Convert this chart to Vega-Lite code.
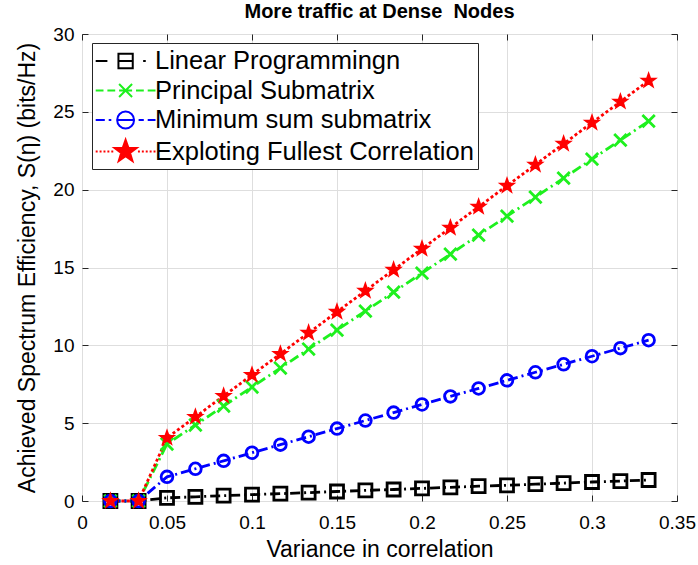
{
  "$schema": "https://vega.github.io/schema/vega-lite/v6.json",
  "width": 595,
  "height": 467,
  "autosize": {"type": "none"},
  "padding": {"left": 82, "top": 34, "right": 21, "bottom": 64},
  "title": {"text": "More traffic at Dense \u00a0Nodes", "fontSize": 20, "fontWeight": "bold", "font": "Liberation Sans", "color": "#000000", "offset": 3, "anchor": "middle"},
  "data": {"values": [
    {"series": "Linear Programmingn", "x": 0.0167, "y": 0},
    {"series": "Linear Programmingn", "x": 0.0333, "y": 0},
    {"series": "Linear Programmingn", "x": 0.05, "y": 0.2},
    {"series": "Linear Programmingn", "x": 0.0667, "y": 0.27},
    {"series": "Linear Programmingn", "x": 0.0833, "y": 0.34},
    {"series": "Linear Programmingn", "x": 0.1, "y": 0.41},
    {"series": "Linear Programmingn", "x": 0.1167, "y": 0.47},
    {"series": "Linear Programmingn", "x": 0.1333, "y": 0.54},
    {"series": "Linear Programmingn", "x": 0.15, "y": 0.61},
    {"series": "Linear Programmingn", "x": 0.1667, "y": 0.68},
    {"series": "Linear Programmingn", "x": 0.1833, "y": 0.74},
    {"series": "Linear Programmingn", "x": 0.2, "y": 0.81},
    {"series": "Linear Programmingn", "x": 0.2167, "y": 0.88},
    {"series": "Linear Programmingn", "x": 0.2333, "y": 0.95},
    {"series": "Linear Programmingn", "x": 0.25, "y": 1.01},
    {"series": "Linear Programmingn", "x": 0.2667, "y": 1.08},
    {"series": "Linear Programmingn", "x": 0.2833, "y": 1.15},
    {"series": "Linear Programmingn", "x": 0.3, "y": 1.22},
    {"series": "Linear Programmingn", "x": 0.3167, "y": 1.28},
    {"series": "Linear Programmingn", "x": 0.3333, "y": 1.35},
    {"series": "Principal Submatrix", "x": 0.0167, "y": 0},
    {"series": "Principal Submatrix", "x": 0.0333, "y": 0},
    {"series": "Principal Submatrix", "x": 0.05, "y": 3.66},
    {"series": "Principal Submatrix", "x": 0.0667, "y": 4.88},
    {"series": "Principal Submatrix", "x": 0.0833, "y": 6.1},
    {"series": "Principal Submatrix", "x": 0.1, "y": 7.32},
    {"series": "Principal Submatrix", "x": 0.1167, "y": 8.54},
    {"series": "Principal Submatrix", "x": 0.1333, "y": 9.76},
    {"series": "Principal Submatrix", "x": 0.15, "y": 10.98},
    {"series": "Principal Submatrix", "x": 0.1667, "y": 12.2},
    {"series": "Principal Submatrix", "x": 0.1833, "y": 13.42},
    {"series": "Principal Submatrix", "x": 0.2, "y": 14.64},
    {"series": "Principal Submatrix", "x": 0.2167, "y": 15.86},
    {"series": "Principal Submatrix", "x": 0.2333, "y": 17.08},
    {"series": "Principal Submatrix", "x": 0.25, "y": 18.3},
    {"series": "Principal Submatrix", "x": 0.2667, "y": 19.52},
    {"series": "Principal Submatrix", "x": 0.2833, "y": 20.74},
    {"series": "Principal Submatrix", "x": 0.3, "y": 21.96},
    {"series": "Principal Submatrix", "x": 0.3167, "y": 23.18},
    {"series": "Principal Submatrix", "x": 0.3333, "y": 24.4},
    {"series": "Minimum sum submatrix", "x": 0.0167, "y": 0},
    {"series": "Minimum sum submatrix", "x": 0.0333, "y": 0},
    {"series": "Minimum sum submatrix", "x": 0.05, "y": 1.55},
    {"series": "Minimum sum submatrix", "x": 0.0667, "y": 2.07},
    {"series": "Minimum sum submatrix", "x": 0.0833, "y": 2.58},
    {"series": "Minimum sum submatrix", "x": 0.1, "y": 3.1},
    {"series": "Minimum sum submatrix", "x": 0.1167, "y": 3.62},
    {"series": "Minimum sum submatrix", "x": 0.1333, "y": 4.13},
    {"series": "Minimum sum submatrix", "x": 0.15, "y": 4.65},
    {"series": "Minimum sum submatrix", "x": 0.1667, "y": 5.17},
    {"series": "Minimum sum submatrix", "x": 0.1833, "y": 5.68},
    {"series": "Minimum sum submatrix", "x": 0.2, "y": 6.2},
    {"series": "Minimum sum submatrix", "x": 0.2167, "y": 6.72},
    {"series": "Minimum sum submatrix", "x": 0.2333, "y": 7.23},
    {"series": "Minimum sum submatrix", "x": 0.25, "y": 7.75},
    {"series": "Minimum sum submatrix", "x": 0.2667, "y": 8.27},
    {"series": "Minimum sum submatrix", "x": 0.2833, "y": 8.78},
    {"series": "Minimum sum submatrix", "x": 0.3, "y": 9.3},
    {"series": "Minimum sum submatrix", "x": 0.3167, "y": 9.82},
    {"series": "Minimum sum submatrix", "x": 0.3333, "y": 10.33},
    {"series": "Exploting Fullest Correlation", "x": 0.0167, "y": 0},
    {"series": "Exploting Fullest Correlation", "x": 0.0333, "y": 0},
    {"series": "Exploting Fullest Correlation", "x": 0.05, "y": 4.05},
    {"series": "Exploting Fullest Correlation", "x": 0.0667, "y": 5.4},
    {"series": "Exploting Fullest Correlation", "x": 0.0833, "y": 6.75},
    {"series": "Exploting Fullest Correlation", "x": 0.1, "y": 8.1},
    {"series": "Exploting Fullest Correlation", "x": 0.1167, "y": 9.45},
    {"series": "Exploting Fullest Correlation", "x": 0.1333, "y": 10.8},
    {"series": "Exploting Fullest Correlation", "x": 0.15, "y": 12.15},
    {"series": "Exploting Fullest Correlation", "x": 0.1667, "y": 13.5},
    {"series": "Exploting Fullest Correlation", "x": 0.1833, "y": 14.85},
    {"series": "Exploting Fullest Correlation", "x": 0.2, "y": 16.2},
    {"series": "Exploting Fullest Correlation", "x": 0.2167, "y": 17.55},
    {"series": "Exploting Fullest Correlation", "x": 0.2333, "y": 18.9},
    {"series": "Exploting Fullest Correlation", "x": 0.25, "y": 20.25},
    {"series": "Exploting Fullest Correlation", "x": 0.2667, "y": 21.6},
    {"series": "Exploting Fullest Correlation", "x": 0.2833, "y": 22.95},
    {"series": "Exploting Fullest Correlation", "x": 0.3, "y": 24.3},
    {"series": "Exploting Fullest Correlation", "x": 0.3167, "y": 25.65},
    {"series": "Exploting Fullest Correlation", "x": 0.3333, "y": 27.0}
  ]},
  "layer": [
    {
      "mark": {"type": "line", "strokeWidth": 2.8},
      "encoding": {
        "x": {"field": "x", "type": "quantitative", "scale": {"domain": [0, 0.35], "nice": false, "zero": false},
              "axis": {"orient": "bottom", "values": [0, 0.05, 0.1, 0.15, 0.2, 0.25, 0.3, 0.35], "format": "~g", "title": "Variance in correlation", "grid": true, "labelPadding": 18, "titlePadding": 6, "labelFlush": false}},
        "y": {"field": "y", "type": "quantitative", "scale": {"domain": [0, 30], "nice": false},
              "axis": {"orient": "left", "values": [0, 5, 10, 15, 20, 25, 30], "format": "d", "title": "Achieved Spectrum Efficiency, S(η) (bits/Hz)", "grid": true, "labelPadding": 14, "titlePadding": 13, "labelFlush": false}},
        "stroke": {"field": "series", "type": "nominal", "legend": null,
                   "scale": {"domain": ["Linear Programmingn", "Principal Submatrix", "Minimum sum submatrix", "Exploting Fullest Correlation"], "range": ["#000000", "#1ef01e", "#0000ff", "#ff0000"]}},
        "strokeDash": {"field": "series", "type": "nominal", "legend": null,
                   "scale": {"domain": ["Linear Programmingn", "Principal Submatrix", "Minimum sum submatrix", "Exploting Fullest Correlation"], "range": [[10, 4, 2, 4], [10, 4, 2, 4], [10, 4, 2, 4], [3, 2.5]]}}
      }
    },
    {
      "mark": {"type": "point", "strokeWidth": 2.8, "opacity": 1},
      "encoding": {
        "x": {"field": "x", "type": "quantitative", "scale": {"domain": [0, 0.35], "nice": false, "zero": false},
              "axis": {"orient": "top", "values": [0, 0.05, 0.1, 0.15, 0.2, 0.25, 0.3, 0.35], "labels": false, "grid": false, "title": null}},
        "y": {"field": "y", "type": "quantitative", "scale": {"domain": [0, 30], "nice": false},
              "axis": {"orient": "right", "values": [0, 5, 10, 15, 20, 25, 30], "labels": false, "grid": false, "title": null}},
        "stroke": {"field": "series", "type": "nominal", "legend": null,
                   "scale": {"domain": ["Linear Programmingn", "Principal Submatrix", "Minimum sum submatrix", "Exploting Fullest Correlation"], "range": ["#000000", "#1ef01e", "#0000ff", "#ff0000"]}},
        "fill": {"field": "series", "type": "nominal", "legend": null,
                   "scale": {"domain": ["Linear Programmingn", "Principal Submatrix", "Minimum sum submatrix", "Exploting Fullest Correlation"], "range": ["transparent", "transparent", "transparent", "#ff0000"]}},
        "shape": {"field": "series", "type": "nominal", "legend": null,
                   "scale": {"domain": ["Linear Programmingn", "Principal Submatrix", "Minimum sum submatrix", "Exploting Fullest Correlation"], "range": ["square", "M-1,-1L1,1M-1,1L1,-1", "circle", "M0,-1L0.235,-0.324L0.951,-0.309L0.38,0.124L0.588,0.809L0,0.4L-0.588,0.809L-0.38,0.124L-0.951,-0.309L-0.235,-0.324Z"]}},
        "size": {"field": "series", "type": "ordinal", "legend": null,
                   "scale": {"domain": ["Linear Programmingn", "Principal Submatrix", "Minimum sum submatrix", "Exploting Fullest Correlation"], "range": [169, 121, 225, 484]}}
      }
    },
    {
      "data": {"values": [
        {"series": "Linear Programmingn"},
        {"series": "Principal Submatrix"},
        {"series": "Minimum sum submatrix"},
        {"series": "Exploting Fullest Correlation"}
      ]},
      "mark": {"type": "point", "opacity": 0, "size": 676, "strokeWidth": 2},
      "encoding": {
        "stroke": {"field": "series", "type": "nominal",
                   "legend": {"title": null, "encode": {"symbols": {"update": {"opacity": {"value": 1}}}}},
                   "scale": {"domain": ["Linear Programmingn", "Principal Submatrix", "Minimum sum submatrix", "Exploting Fullest Correlation"], "range": ["#000000", "#1ef01e", "#0000ff", "#ff0000"]}},
        "fill": {"field": "series", "type": "nominal",
                   "legend": {"title": null, "encode": {"symbols": {"update": {"opacity": {"value": 1}}}}},
                   "scale": {"domain": ["Linear Programmingn", "Principal Submatrix", "Minimum sum submatrix", "Exploting Fullest Correlation"], "range": ["#ffffff", "#ffffff", "#ffffff", "#ff0000"]}},
        "shape": {"field": "series", "type": "nominal",
                   "legend": {"title": null, "encode": {"symbols": {"update": {"opacity": {"value": 1}}}}},
                   "scale": {"domain": ["Linear Programmingn", "Principal Submatrix", "Minimum sum submatrix", "Exploting Fullest Correlation"], "range": [
                     "M-1.1,0L-0.2,0M0.65,-0.55L1.75,-0.55L1.75,0.55L0.65,0.55ZM0.65,0L1.75,0M2.55,0L2.75,0",
                     "M-1.1,0L-0.5,0M-0.2,0L0.4,0M0.7,0L1.7,0M0.7,-0.5L1.7,0.5M0.7,0.5L1.7,-0.5M2.0,0L2.6,0M2.9,0L3.5,0",
                     "M-1.1,0L-0.4,0M-0.1,0L0.1,0M1.85,0A0.65,0.65 0 1 1 0.55,0A0.65,0.65 0 1 1 1.85,0ZM0.55,0L1.85,0M2.2,0L2.6,0M2.9,0L3.5,0",
                     "M-1.1,0L-0.95,0M-0.8,0L-0.65,0M-0.5,0L-0.35,0M-0.2,0L-0.05,0M0.1,0L0.25,0M1.2,-0.9L1.412,-0.292L2.056,-0.278L1.542,0.112L1.729,0.728L1.2,0.36L0.671,0.728L0.858,0.112L0.344,-0.278L0.988,-0.292ZM2.15,0L2.3,0M2.45,0L2.6,0M2.75,0L2.9,0M3.05,0L3.2,0M3.35,0L3.5,0"
                   ]}}
      }
    }
  ],
  "resolve": {
    "scale": {"stroke": "independent", "fill": "independent", "shape": "independent", "size": "independent", "strokeDash": "independent"},
    "axis": {"x": "independent", "y": "independent"}
  },
  "config": {
    "view": {"stroke": "#262626", "strokeWidth": 1},
    "background": "#ffffff",
    "axis": {
      "labelFont": "Liberation Sans", "labelFontSize": 19, "labelColor": "#000000",
      "titleFont": "Liberation Sans", "titleFontSize": 23, "titleFontWeight": "normal", "titleColor": "#000000",
      "tickColor": "#262626", "tickSize": -6, "tickWidth": 1, "domain": false,
      "gridColor": "#dedede", "gridWidth": 1
    },
    "legend": {
      "orient": "none", "legendX": 10, "legendY": 9, "padding": 4,
      "strokeColor": "#262626", "strokeWidth": 1, "fillColor": "#ffffff",
      "labelFont": "Liberation Sans", "labelFontSize": 25.5, "labelColor": "#000000", "labelLimit": 600,
      "symbolSize": 676, "symbolStrokeWidth": 2, "symbolOffset": 0, "labelOffset": 31, "rowPadding": 1.5,
      "symbolOpacity": 1
    }
  }
}
